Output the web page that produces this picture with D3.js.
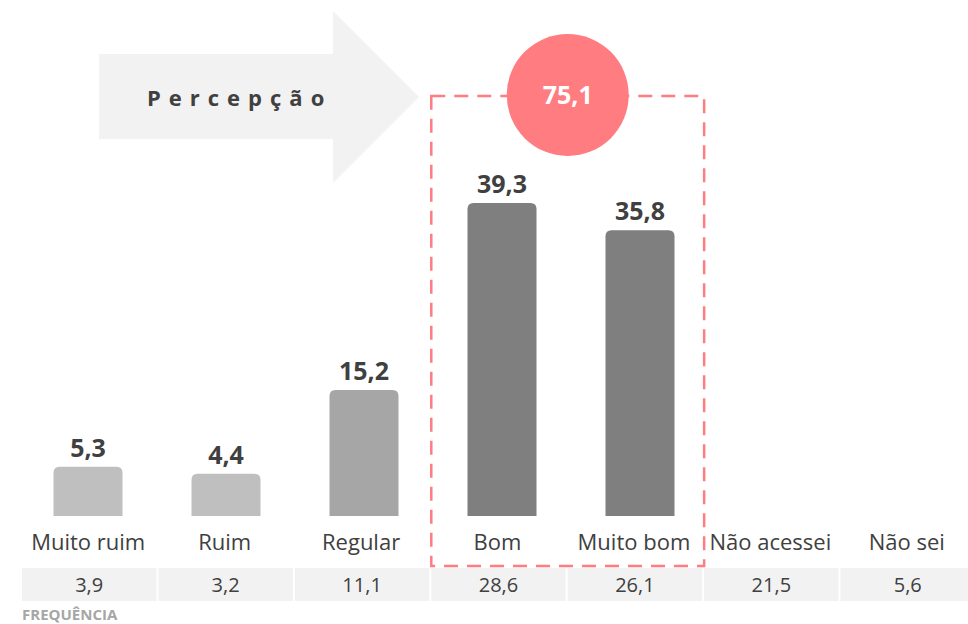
<!DOCTYPE html>
<html>
<head>
<meta charset="utf-8">
<script src="https://cdn.jsdelivr.net/npm/d3@7"></script>
<style>
  body { margin: 0; background: #fff; }
  svg { font-family: "Open Sans", sans-serif; }
</style>
</head>
<body>
<svg id="chart" width="968" height="624"></svg>
<script>
// categorias e valores (percentual)
var categories = ["Muito ruim", "Ruim", "Regular", "Bom", "Muito bom", "Não acessei", "Não sei"];
var barCategories = categories.slice(0, 5);
var percValues = [5.3, 4.4, 15.2, 39.3, 35.8];           // barras (só as 5 primeiras)
var barColors = ["#bfbfbf", "#bfbfbf", "#a6a6a6", "#7f7f7f", "#7f7f7f"];
var freqValues = [3.9, 3.2, 11.1, 28.6, 26.1, 21.5, 5.6];
var highlighted = ["Bom", "Muito bom"];
var totalLabel = "75,1";

var fmt = function (v) { return d3.format(".1f")(v).replace(".", ","); };

var svg = d3.select("#chart");
var baseline = 516;

// escala da tabela/rótulos e escala das barras (passo um pouco maior)
var x = d3.scaleBand().domain(categories).range([20, 975]).paddingInner(0);
var xb = d3.scaleBand().domain(barCategories).range([19, 709]).paddingInner(0);
var y = d3.scaleLinear().domain([0, 39.3]).range([508, 203]);
var barW = 69;

// seta "Percepção"
var arrow = [[99, 54], [333, 54], [333, 11], [419, 97], [333, 183], [333, 139], [99, 139]];
svg.append("polygon")
    .attr("points", arrow.map(function (p) { return p.join(","); }).join(" "))
    .attr("fill", "#f2f2f2");
svg.append("text")
    .attr("x", 147).attr("y", 106)
    .attr("fill", "#404040")
    .attr("font-size", 22).attr("font-weight", "bold")
    .attr("letter-spacing", "8px")
    .text("Percepção");

// barras com cantos de cima arredondados
var r = 6;
function barPath(x0, top, w, bottom) {
    return "M" + x0 + "," + bottom +
        "V" + (top + r) + "Q" + x0 + "," + top + " " + (x0 + r) + "," + top +
        "H" + (x0 + w - r) + "Q" + (x0 + w) + "," + top + " " + (x0 + w) + "," + (top + r) +
        "V" + bottom + "Z";
}

var bars = svg.append("g");
bars.selectAll("path")
    .data(percValues)
    .enter()
    .append("path")
    .attr("d", function (d, i) {
        var cx = xb(barCategories[i]) + xb.bandwidth() / 2;
        return barPath(cx - barW / 2, y(d), barW, baseline);
    })
    .attr("fill", function (d, i) { return barColors[i]; });

bars.selectAll("text")
    .data(percValues)
    .enter()
    .append("text")
    .attr("x", function (d, i) { return xb(barCategories[i]) + xb.bandwidth() / 2; })
    .attr("y", function (d) { return y(d) - 10; })
    .attr("text-anchor", "middle")
    .attr("fill", "#404040")
    .attr("font-size", 25).attr("font-weight", "bold")
    .text(fmt);

// rótulos das categorias
svg.append("g").selectAll("text")
    .data(categories)
    .enter()
    .append("text")
    .attr("x", function (d) { return x(d) + x.bandwidth() / 2; })
    .attr("y", 550)
    .attr("text-anchor", "middle")
    .attr("fill", "#404040")
    .attr("font-size", 22)
    .text(function (d) { return d; });

// caixa tracejada de destaque
var hx0 = x(highlighted[0]) + 2, hx1 = x(highlighted[1]) + x.bandwidth() + 2;
svg.append("rect")
    .attr("x", hx0).attr("y", 96)
    .attr("width", hx1 - hx0).attr("height", 566 - 96)
    .attr("fill", "none")
    .attr("stroke", "#ff7c80").attr("stroke-width", 2.5)
    .attr("stroke-dasharray", "14,9");

var cx = (hx0 + hx1) / 2;
svg.append("circle")
    .attr("cx", cx).attr("cy", 95).attr("r", 61)
    .attr("fill", "#ff7c80");
svg.append("text")
    .attr("x", cx).attr("y", 104)
    .attr("text-anchor", "middle")
    .attr("fill", "#fff")
    .attr("font-size", 25).attr("font-weight", "bold")
    .text(totalLabel);

// tabela de frequência
var table = svg.append("g");
table.selectAll("rect")
    .data(freqValues)
    .enter()
    .append("rect")
    .attr("x", function (d, i) { return x(categories[i]) + 2; })
    .attr("y", 568)
    .attr("width", x.bandwidth() - 2)
    .attr("height", 33)
    .attr("fill", "#f2f2f2");
table.selectAll("text")
    .data(freqValues)
    .enter()
    .append("text")
    .attr("x", function (d, i) { return x(categories[i]) + x.bandwidth() / 2 + 1; })
    .attr("y", 592)
    .attr("text-anchor", "middle")
    .attr("fill", "#404040")
    .attr("font-size", 20)
    .text(fmt);

svg.append("text")
    .attr("x", 22).attr("y", 620)
    .attr("fill", "#a6a6a6")
    .attr("font-size", 15).attr("font-weight", "bold")
    .text("FREQUÊNCIA");
</script>
</body>
</html>
